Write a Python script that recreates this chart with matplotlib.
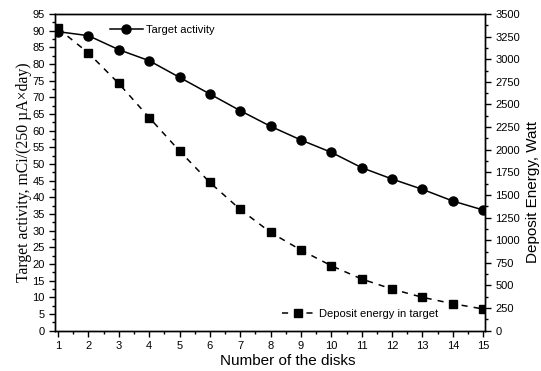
import numpy as np
import matplotlib
matplotlib.use("Agg")
import matplotlib.pyplot as plt
from matplotlib.ticker import MultipleLocator

plt.rcParams['font.family'] = 'Liberation Sans'

disks = np.arange(1, 16)
activity = [89.7, 88.5, 84.3, 81.0, 76.0, 71.0, 66.0, 61.3, 57.2, 53.5, 48.9, 45.5, 42.4, 38.9, 36.2]
energy = [3340, 3069, 2732, 2356, 1987, 1638, 1340, 1086, 891, 718, 571, 460, 369, 298, 240]

fig = plt.figure(figsize=(5.41, 3.71), dpi=100)
ax = fig.add_axes([55/541, 40.3/371, 430/541, 316.7/371])
ax2 = ax.twinx()

l1, = ax.plot(disks, activity, '-', color='black', marker='o', markersize=6.5, lw=1.1)
l2, = ax2.plot(disks, energy, '--', color='black', marker='s', markersize=6, lw=1.1, dashes=(4, 4))

ax.set_xlim(0.9, 15.06)
ax.set_ylim(0, 95)
ax2.set_ylim(0, 3500)

ax.xaxis.set_major_locator(MultipleLocator(1))
ax.xaxis.set_minor_locator(MultipleLocator(0.5))
ax.yaxis.set_major_locator(MultipleLocator(5))
ax.yaxis.set_minor_locator(MultipleLocator(2.5))
ax2.yaxis.set_major_locator(MultipleLocator(250))
ax2.yaxis.set_minor_locator(MultipleLocator(125))

for a in (ax, ax2):
    a.tick_params(which='major', direction='out', length=4, width=1, labelsize=8)
    a.tick_params(which='minor', direction='out', length=2.5, width=1)
    for s in a.spines.values():
        s.set_linewidth(1)

ax.set_xlabel('Number of the disks', fontsize=11, labelpad=1)
ax.xaxis.set_label_coords(0.542, -0.075)
ax.set_ylabel('Target activity, mCi/(250 \u00b5A\u00d7day)', fontsize=11.3,
              family='Liberation Serif', labelpad=0)
ax2.set_ylabel('Deposit Energy, Watt', fontsize=11)
ax2.yaxis.set_label_coords(1.096, 0.438)

ax.legend([l1], ['Target activity'], loc='center left', bbox_to_anchor=(0.127, 0.949),
          frameon=False, fontsize=8, handlelength=3, handletextpad=0.3,
          borderpad=0, borderaxespad=0)
ax2.legend([l2], ['Deposit energy in target'], loc='center left', bbox_to_anchor=(0.527, 0.053),
           frameon=False, fontsize=8, handlelength=3, handletextpad=0.4,
           borderpad=0, borderaxespad=0)

fig.savefig('out.png', dpi=100)
